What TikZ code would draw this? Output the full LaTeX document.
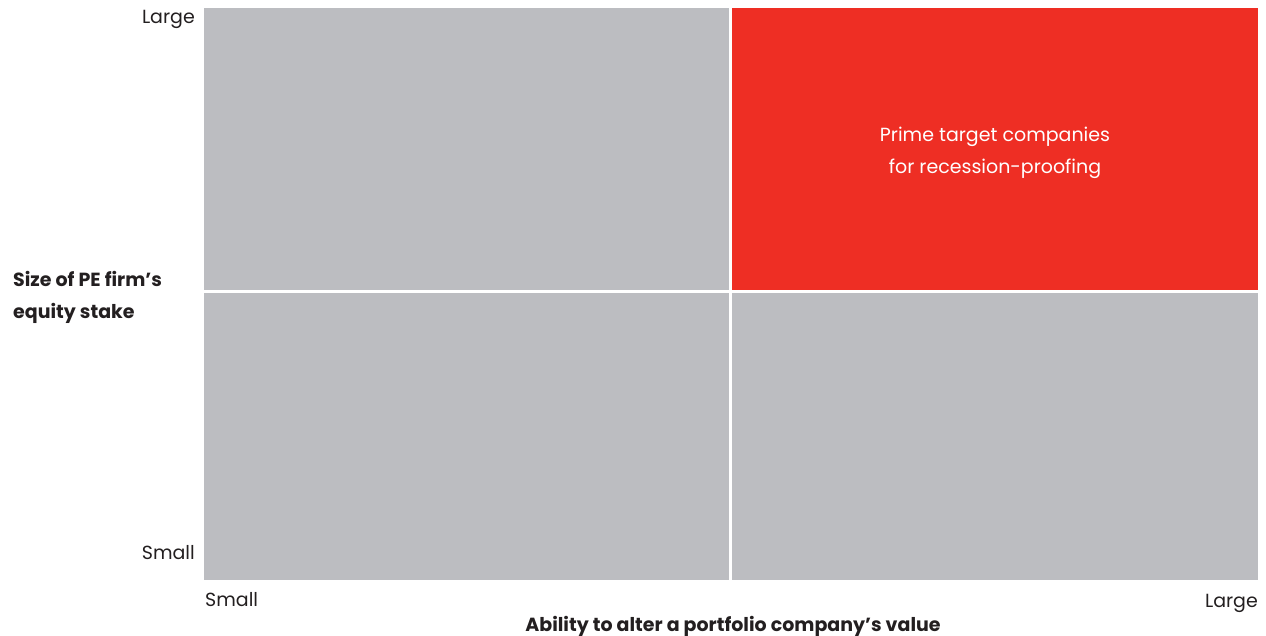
\documentclass[tikz,border=0pt]{standalone}
\usepackage{fontspec}
\setmainfont{Poppins}
\definecolor{cellgray}{HTML}{BCBDC1}
\definecolor{cellred}{HTML}{EE2E24}
\definecolor{txt}{HTML}{231F20}
\begin{document}
\begin{tikzpicture}[x=1pt,y=-1pt,
  lbl/.style={font=\fontsize{19}{22}\selectfont, text=txt, inner sep=0pt},
  title/.style={font=\fontsize{19}{32}\selectfont\bfseries, text=txt, inner sep=0pt},
  divider/.style={draw=white, line width=3pt}]
\useasboundingbox (0,0) rectangle (1266,636);
\fill[cellgray] (204,8) rectangle (1258,580);
\fill[cellred] (730,8) rectangle (1258,292);
\coordinate (vt) at (730,8);
\coordinate (vb) at (730,580);
\coordinate (hl) at (204,292);
\coordinate (hr) at (1258,292);
\draw[divider] (vt) -- (vb);
\draw[divider] (hl) -- (hr);
\node[lbl, anchor=base east] (ylarge) at (195,24) {Large};
\node[lbl, anchor=base east] (ysmall) at (195,559) {Small};
\node[lbl, anchor=base west] (xsmall) at (205,606) {Small};
\node[lbl, anchor=base east] (xlarge) at (1258,607) {Large};
\node[title, anchor=base] (xtitle) at (733,631) {Ability to alter a portfolio company’s value};
\node[title, anchor=base west, align=left] (ytitle) at (13,318) {Size of PE firm’s\\equity stake};
\node[lbl, text=white, align=center, anchor=base, font=\fontsize{19}{32}\selectfont] (prime) at (995,174) {Prime target companies\\for recession-proofing};
\end{tikzpicture}
\end{document}
